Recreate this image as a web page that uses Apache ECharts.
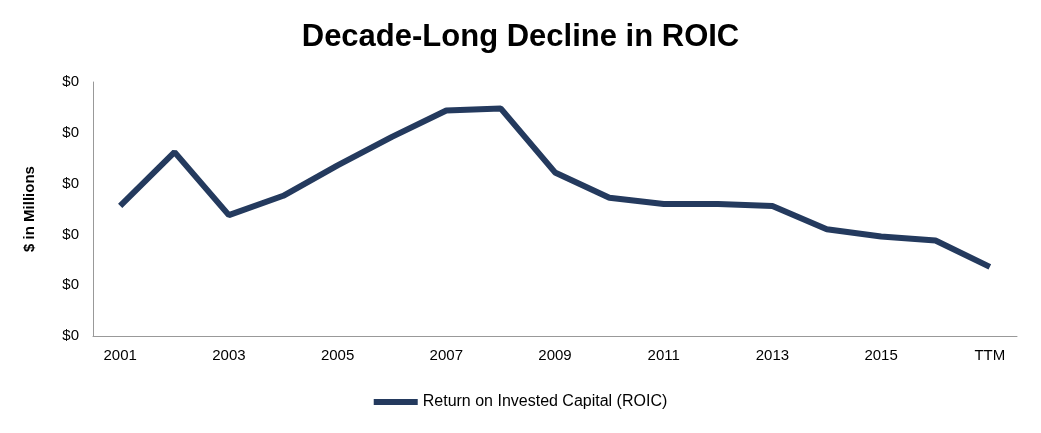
<!DOCTYPE html>
<html><head><meta charset="utf-8">
<script src="https://cdn.jsdelivr.net/npm/echarts@6/dist/echarts.min.js"></script>
<style>html,body{margin:0;background:#fff}#c{width:1041px;height:433px}</style>
</head><body><div id="c"></div>
<script>
var categories = ['2001','2002','2003','2004','2005','2006','2007','2008','2009','2010','2011','2012','2013','2014','2015','2016','TTM'];
var roic = [0.128,0.181,0.119,0.138,0.168,0.196,0.222,0.224,0.161,0.136,0.130,0.130,0.128,0.105,0.098,0.094,0.068];

var chart = echarts.init(document.getElementById('c'));
chart.setOption({
	animation: false,
	title: {
		text: 'Decade-Long Decline in ROIC',
		left: 'center', top: 17,
		textStyle: {fontFamily: 'Liberation Sans', fontSize: 31, fontWeight: 'bold', color: '#000'}
	},
	legend: {
		bottom: 18, left: 'center',
		itemWidth: 44, itemHeight: 6, itemGap: 2,
		icon: 'rect',
		textStyle: {fontFamily: 'Liberation Sans', fontSize: 16, color: '#000'},
		data: ['Return on Invested Capital (ROIC)']
	},
	grid: {left: 93, right: 24, top: 82, bottom: 97},
	xAxis: {
		type: 'category', data: categories, boundaryGap: true,
		axisLine: {lineStyle: {color: '#999'}},
		axisTick: {show: false},
		axisLabel: {interval: 1, color: '#000', fontFamily: 'Liberation Sans', fontSize: 15, margin: 12}
	},
	yAxis: {
		type: 'value', min: 0, max: 0.25, interval: 0.05,
		name: '$ in Millions', nameLocation: 'middle', nameGap: 56, nameRotate: 90,
		nameTextStyle: {fontFamily: 'Liberation Sans', fontSize: 15, fontWeight: 'bold', color: '#000'},
		axisLine: {show: true, lineStyle: {color: '#999'}},
		axisTick: {show: false},
		splitLine: {show: false},
		axisLabel: {color: '#000', fontFamily: 'Liberation Sans', fontSize: 15, margin: 14,
			formatter: function (v) { return '$' + Math.round(v); }}
	},
	series: [{
		name: 'Return on Invested Capital (ROIC)',
		type: 'line', data: roic,
		symbol: 'none',
		lineStyle: {width: 6, color: '#243a5e'},
		itemStyle: {color: '#243a5e'}
	}]
});
</script></body></html>
